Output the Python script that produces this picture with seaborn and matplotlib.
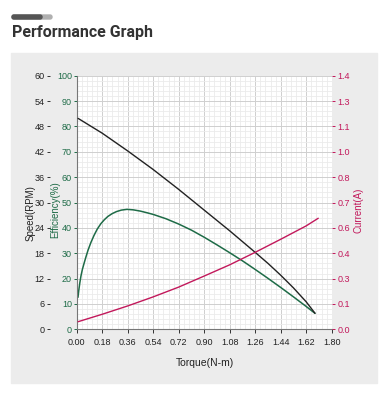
import matplotlib
matplotlib.use("Agg")
import matplotlib.pyplot as plt
import seaborn as sns
import numpy as np
import pandas as pd
from matplotlib.patches import Rectangle, FancyBboxPatch
from matplotlib.ticker import AutoMinorLocator, FixedLocator

# values
speed_torque = [0.01, 0.18, 0.36, 0.54, 0.72, 0.90, 1.08, 1.26, 1.35, 1.44, 1.53, 1.62, 1.682]
speed_rpm = [49.9, 46.4, 42.2, 37.8, 33.1, 28.2, 23.3, 18.2, 15.6, 12.8, 9.8, 6.5, 3.8]

eff_torque = [0.009, 0.015, 0.022, 0.030, 0.040, 0.052, 0.065, 0.080, 0.100, 0.122,
              0.145, 0.170, 0.195, 0.220, 0.250, 0.280, 0.315, 0.355, 0.400, 0.450,
              0.500, 0.540, 0.630, 0.720, 0.810, 0.900, 0.990, 1.080, 1.170, 1.260,
              1.350, 1.440, 1.530, 1.620, 1.682]
eff_pct = [12.6, 15.5, 18.3, 21.0, 23.6, 26.0, 28.5, 31.2, 34.2, 37.0,
           39.5, 41.6, 43.2, 44.5, 45.6, 46.4, 47.0, 47.3, 47.1, 46.6,
           45.9, 45.3, 43.6, 41.5, 39.1, 36.3, 33.3, 30.2, 27.0, 23.6,
           20.1, 16.5, 12.8, 9.0, 6.3]

cur_torque = [0.01, 0.18, 0.36, 0.54, 0.72, 0.90, 1.08, 1.26, 1.44, 1.62, 1.705]
cur_amp = [0.042, 0.083, 0.129, 0.179, 0.233, 0.294, 0.356, 0.425, 0.497, 0.571, 0.613]

x_ticks = [0.00, 0.18, 0.36, 0.54, 0.72, 0.90, 1.08, 1.26, 1.44, 1.62, 1.80]
speed_ticks = [0, 6, 12, 18, 24, 30, 36, 42, 48, 54, 60]
eff_ticks = [0, 10, 20, 30, 40, 50, 60, 70, 80, 90, 100]
cur_ticks = [0.0, 0.14, 0.28, 0.42, 0.56, 0.70, 0.84, 0.98, 1.12, 1.26, 1.40]
cur_labels = ["0.0", "0.1", "0.3", "0.4", "0.6", "0.7", "0.8", "1.0", "1.1", "1.3", "1.4"]

speed_df = pd.DataFrame({"torque": speed_torque, "speed": speed_rpm})
eff_df = pd.DataFrame({"torque": eff_torque, "eff": eff_pct})
cur_df = pd.DataFrame({"torque": cur_torque, "current": cur_amp})

sns.set_style("white")
plt.rcParams["font.family"] = ["Liberation Sans", "DejaVu Sans"]

black = "#222222"
green = "#1e6b47"
pink = "#c2185b"
tick_fs = 6.5

fig = plt.figure(figsize=(3.89, 3.97), dpi=100)
fig.patches.append(Rectangle((11 / 389, 1 - 383 / 397), 366 / 389, 330 / 397,
                             transform=fig.transFigure, color="#ececec", zorder=0))
# small decorative bar above the title
fig.patches.append(FancyBboxPatch((12 / 389, 1 - 19 / 397), 40 / 389, 4 / 397,
                                  boxstyle="round,pad=0,rounding_size=0.005",
                                  transform=fig.transFigure, color="#b0b0b0"))
fig.patches.append(FancyBboxPatch((12 / 389, 1 - 19 / 397), 30 / 389, 4 / 397,
                                  boxstyle="round,pad=0,rounding_size=0.005",
                                  transform=fig.transFigure, color="#555555"))
fig.text(12 / 389, 1 - 32 / 397, "Performance Graph", fontsize=11.5, fontweight="bold",
         color="#333333", va="center", ha="left", family=["Roboto", "DejaVu Sans"])

ax = fig.add_axes([76.7 / 389, 1 - 329.3 / 397, 255 / 389, 253.6 / 397])
ax.set_facecolor("white")
ax.set_zorder(1)

# grid
ax.set_xlim(0, 1.8)
ax.set_ylim(0, 100)
ax.xaxis.set_major_locator(FixedLocator(x_ticks))
ax.yaxis.set_major_locator(FixedLocator(eff_ticks))
ax.xaxis.set_minor_locator(AutoMinorLocator(5))
ax.yaxis.set_minor_locator(AutoMinorLocator(5))
ax.grid(which="major", color="#cfcfcf", linewidth=0.7)
ax.grid(which="minor", color="#ebebeb", linewidth=0.6)
ax.set_axisbelow(True)

sns.lineplot(data=eff_df, x="torque", y="eff", ax=ax, color=green, linewidth=1.1,
             sort=False, estimator=None)
ax.set_xticks(x_ticks)
ax.set_xticklabels([f"{v:.2f}" for v in x_ticks])
ax.set_yticks(eff_ticks)
ax.set_yticklabels([str(v) for v in eff_ticks])
ax.tick_params(axis="y", which="major", colors=green, labelsize=tick_fs, length=2.5,
               width=0.7, pad=1, direction="out", left=True)
ax.tick_params(axis="x", which="major", colors="#333333", labelsize=tick_fs, length=3,
               width=0.7, pad=3, direction="out", bottom=True)
ax.tick_params(which="minor", length=0)
for t in ax.get_yticklabels():
    t.set_color(green)
for t in ax.get_xticklabels():
    t.set_color("#222222")
for s in ["top", "right"]:
    ax.spines[s].set_visible(False)
for s in ["left", "bottom"]:
    ax.spines[s].set_color("#777777")
    ax.spines[s].set_linewidth(0.8)
ax.set_xlabel("Torque(N-m)", fontsize=7.5, color="#222222")
ax.xaxis.set_label_coords(0.503, -0.115)
ax.set_ylabel("Efficiency(%)", fontsize=7, color=green)
ax.yaxis.set_label_coords(-0.066, 0.47)

# speed axis, outer left
ax_sp = ax.twinx()
sns.lineplot(data=speed_df, x="torque", y="speed", ax=ax_sp, color=black, linewidth=1.0,
             sort=False, estimator=None)
ax_sp.set_ylim(0, 60)
ax_sp.set_yticks(speed_ticks)
ax_sp.set_yticklabels([str(v) for v in speed_ticks])
ax_sp.yaxis.tick_left()
ax_sp.yaxis.set_label_position("left")
ax_sp.spines["left"].set_position(("outward", 19.5))
for s in ["left", "right", "top", "bottom"]:
    ax_sp.spines[s].set_visible(False)
ax_sp.tick_params(axis="y", colors="#333333", labelsize=tick_fs, length=2.5, width=0.7,
                  pad=1, direction="out", left=True, right=False)
for t in ax_sp.get_yticklabels():
    t.set_color("#222222")
ax_sp.set_ylabel("Speed(RPM)", fontsize=7, color="#222222")
ax_sp.yaxis.set_label_coords(-0.163, 0.46)

# current axis, right
ax_cu = ax.twinx()
sns.lineplot(data=cur_df, x="torque", y="current", ax=ax_cu, color=pink, linewidth=1.0,
             sort=False, estimator=None)
ax_cu.set_ylim(0, 1.4)
ax_cu.set_yticks(cur_ticks)
ax_cu.set_yticklabels(cur_labels)
for s in ["left", "right", "top", "bottom"]:
    ax_cu.spines[s].set_visible(False)
ax_cu.tick_params(axis="y", colors=pink, labelsize=tick_fs, length=2.5, width=0.7,
                  pad=1.5, direction="out", right=True, left=False)
for t in ax_cu.get_yticklabels():
    t.set_color(pink)
ax_cu.set_ylabel("Current(A)", fontsize=7, color=pink, rotation=90)
ax_cu.yaxis.set_label_coords(1.087, 0.47)

ax.set_xlim(0, 1.8)

fig.savefig("out.png", dpi=100)
